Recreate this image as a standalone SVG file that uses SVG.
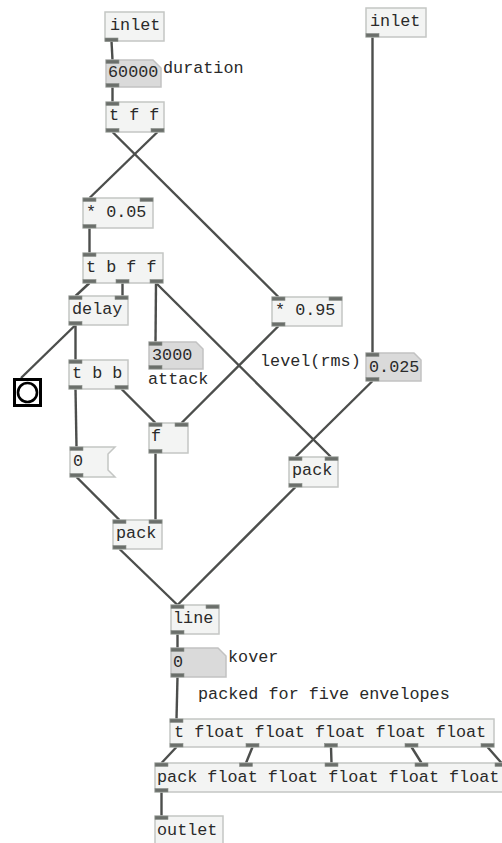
<svg xmlns="http://www.w3.org/2000/svg" width="502" height="843" viewBox="0 0 502 843">
<style>
.box{fill:#f3f4f3;stroke:#c4c6c4;stroke-width:1.5}
.num{fill:#dadada;stroke:#c2c2c2;stroke-width:1.5}
.nub{fill:#6b6f6b;stroke:#8a8f8a;stroke-width:0.6}
.t{font-family:"Liberation Mono","DejaVu Sans Mono",monospace;font-size:16.8px;fill:#2a2a2a}
.c{stroke:#4c4e4c;stroke-width:2.4;fill:none}
</style>
<rect width="502" height="843" fill="#ffffff"/>
<g id="connectors">
<line class="c" x1="111.5" y1="41" x2="112.5" y2="60"/>
<line class="c" x1="112.5" y1="87" x2="112.5" y2="102"/>
<line class="c" x1="112.5" y1="132" x2="278.5" y2="297"/>
<line class="c" x1="157.5" y1="132" x2="89.5" y2="198"/>
<line class="c" x1="89.5" y1="228" x2="89.5" y2="253"/>
<line class="c" x1="89.5" y1="283" x2="75.5" y2="296"/>
<line class="c" x1="122.5" y1="283" x2="122.5" y2="296"/>
<line class="c" x1="156" y1="283" x2="155.5" y2="342"/>
<line class="c" x1="156" y1="283" x2="331" y2="457"/>
<line class="c" x1="75.5" y1="325" x2="21" y2="378"/>
<line class="c" x1="75.5" y1="325" x2="75.5" y2="360"/>
<line class="c" x1="75.5" y1="389" x2="76.5" y2="447"/>
<line class="c" x1="121.5" y1="389" x2="155.5" y2="423"/>
<line class="c" x1="278.5" y1="326" x2="181.5" y2="423"/>
<line class="c" x1="372.5" y1="37" x2="372.5" y2="353"/>
<line class="c" x1="372.5" y1="381" x2="295.5" y2="457"/>
<line class="c" x1="76.5" y1="477" x2="119.5" y2="520"/>
<line class="c" x1="155.5" y1="453" x2="155.5" y2="520"/>
<line class="c" x1="119.5" y1="549" x2="177.5" y2="605"/>
<line class="c" x1="295.5" y1="487" x2="177.5" y2="605"/>
<line class="c" x1="177.5" y1="634" x2="177.5" y2="648"/>
<line class="c" x1="177.5" y1="677" x2="176.5" y2="719"/>
<line class="c" x1="176.5" y1="747" x2="161.5" y2="763"/>
<line class="c" x1="252.5" y1="747" x2="246" y2="763"/>
<line class="c" x1="331" y1="747" x2="331.5" y2="763"/>
<line class="c" x1="411.5" y1="747" x2="421.5" y2="763"/>
<line class="c" x1="487.5" y1="747" x2="501.5" y2="763"/>
<line class="c" x1="161.5" y1="792" x2="161.5" y2="816"/>
</g>
<g id="inlet1">
<rect class="box" x="105" y="12" width="59" height="29"/>
<text class="t" x="110" y="30">inlet</text>
<rect class="nub" x="105" y="38" width="13" height="3.5"/>
</g>
<g id="num60000">
<path class="num" d="M106,60 H153 L161,68 V87 H106 Z"/>
<text class="t" x="108" y="77">60000</text>
<rect class="nub" x="106" y="60" width="13" height="3.5"/>
<rect class="nub" x="106" y="83.5" width="13" height="3.5"/>
</g>
<text class="t" x="163" y="73">duration</text>
<g id="tff">
<rect class="box" x="106" y="102" width="58" height="30"/>
<text class="t" x="109" y="120">t f f</text>
<rect class="nub" x="106" y="102" width="13" height="3.5"/>
<rect class="nub" x="106" y="128.5" width="13" height="3.5"/>
<rect class="nub" x="151" y="128.5" width="13" height="3.5"/>
</g>
<g id="mul005">
<rect class="box" x="83" y="198" width="70" height="30"/>
<text class="t" x="86" y="217">* 0.05</text>
<rect class="nub" x="83" y="198" width="13" height="3.5"/>
<rect class="nub" x="140" y="198" width="13" height="3.5"/>
<rect class="nub" x="83" y="224.5" width="13" height="3.5"/>
</g>
<g id="tbff">
<rect class="box" x="83" y="253" width="80" height="30"/>
<text class="t" x="86" y="272">t b f f</text>
<rect class="nub" x="83" y="253" width="13" height="3.5"/>
<rect class="nub" x="83" y="279.5" width="13" height="3.5"/>
<rect class="nub" x="116" y="279.5" width="13" height="3.5"/>
<rect class="nub" x="150" y="279.5" width="13" height="3.5"/>
</g>
<g id="delay">
<rect class="box" x="69" y="296" width="59" height="29"/>
<text class="t" x="72" y="314">delay</text>
<rect class="nub" x="69" y="296" width="13" height="3.5"/>
<rect class="nub" x="115" y="296" width="13" height="3.5"/>
<rect class="nub" x="69" y="321.5" width="13" height="3.5"/>
</g>
<g id="mul095">
<rect class="box" x="272" y="297" width="70" height="29"/>
<text class="t" x="275" y="315">* 0.95</text>
<rect class="nub" x="272" y="297" width="13" height="3.5"/>
<rect class="nub" x="329" y="297" width="13" height="3.5"/>
<rect class="nub" x="272" y="322.5" width="13" height="3.5"/>
</g>
<g id="num3000">
<path class="num" d="M149,342 H196 L203,349 V369 H149 Z"/>
<text class="t" x="152" y="360">3000</text>
<rect class="nub" x="149" y="342" width="13" height="3.5"/>
<rect class="nub" x="149" y="365.5" width="13" height="3.5"/>
</g>
<text class="t" x="148" y="384">attack</text>
<text class="t" x="260" y="366">level(rms)</text>
<g id="tbb">
<rect class="box" x="69" y="360" width="59" height="29"/>
<text class="t" x="72" y="378">t b b</text>
<rect class="nub" x="69" y="360" width="13" height="3.5"/>
<rect class="nub" x="69" y="385.5" width="13" height="3.5"/>
<rect class="nub" x="115" y="385.5" width="13" height="3.5"/>
</g>
<g id="bang">
<rect x="14.5" y="379.5" width="26" height="26" fill="#ffffff" stroke="#000000" stroke-width="3"/>
<circle cx="27.5" cy="392.5" r="9.5" fill="#ffffff" stroke="#000000" stroke-width="2.6"/>
</g>
<g id="inlet2">
<rect class="box" x="366" y="8" width="60" height="29"/>
<text class="t" x="370" y="26">inlet</text>
<rect class="nub" x="366" y="33.5" width="13" height="3.5"/>
</g>
<g id="num0025">
<path class="num" d="M366,353 H414 L421,360 V381 H366 Z"/>
<text class="t" x="369" y="372">0.025</text>
<rect class="nub" x="366" y="353" width="13" height="3.5"/>
<rect class="nub" x="366" y="377.5" width="13" height="3.5"/>
</g>
<g id="f">
<rect class="box" x="149" y="423" width="39" height="30"/>
<text class="t" x="151" y="441">f</text>
<rect class="nub" x="149" y="423" width="13" height="3.5"/>
<rect class="nub" x="175" y="423" width="13" height="3.5"/>
<rect class="nub" x="149" y="449.5" width="13" height="3.5"/>
</g>
<g id="msg0">
<path class="box" d="M70,447 H115 L108,454 V470 L115,477 H70 Z"/>
<text class="t" x="73" y="466">0</text>
<rect class="nub" x="70" y="447" width="13" height="3.5"/>
<rect class="nub" x="70" y="473.5" width="13" height="3.5"/>
</g>
<g id="packR">
<rect class="box" x="289" y="457" width="49" height="30"/>
<text class="t" x="292" y="475">pack</text>
<rect class="nub" x="289" y="457" width="13" height="3.5"/>
<rect class="nub" x="325" y="457" width="13" height="3.5"/>
<rect class="nub" x="289" y="483.5" width="13" height="3.5"/>
</g>
<g id="packL">
<rect class="box" x="113" y="520" width="49" height="29"/>
<text class="t" x="116" y="538">pack</text>
<rect class="nub" x="113" y="520" width="13" height="3.5"/>
<rect class="nub" x="149" y="520" width="13" height="3.5"/>
<rect class="nub" x="113" y="545.5" width="13" height="3.5"/>
</g>
<g id="line">
<rect class="box" x="171" y="605" width="48" height="29"/>
<text class="t" x="173" y="623">line</text>
<rect class="nub" x="171" y="605" width="13" height="3.5"/>
<rect class="nub" x="206" y="605" width="13" height="3.5"/>
<rect class="nub" x="171" y="630.5" width="13" height="3.5"/>
</g>
<g id="kover">
<path class="num" d="M171,648 H218 L226,656 V677 H171 Z"/>
<text class="t" x="173" y="667">0</text>
<rect class="nub" x="171" y="648" width="13" height="3.5"/>
<rect class="nub" x="171" y="673.5" width="13" height="3.5"/>
</g>
<text class="t" x="228" y="662">kover</text>
<text class="t" x="198" y="699">packed for five envelopes</text>
<g id="tfloat">
<rect class="box" x="170" y="719" width="324" height="28"/>
<text class="t" x="174" y="737">t float float float float float</text>
<rect class="nub" x="170" y="719" width="13" height="3.5"/>
<rect class="nub" x="170" y="743.5" width="13" height="3.5"/>
<rect class="nub" x="246" y="743.5" width="13" height="3.5"/>
<rect class="nub" x="324.5" y="743.5" width="13" height="3.5"/>
<rect class="nub" x="405" y="743.5" width="13" height="3.5"/>
<rect class="nub" x="481" y="743.5" width="13" height="3.5"/>
</g>
<g id="packfloat">
<rect class="box" x="155" y="763" width="352" height="29"/>
<text class="t" x="157" y="782">pack float float float float float</text>
<rect class="nub" x="155" y="763" width="13" height="3.5"/>
<rect class="nub" x="239.5" y="763" width="13" height="3.5"/>
<rect class="nub" x="325" y="763" width="13" height="3.5"/>
<rect class="nub" x="415" y="763" width="13" height="3.5"/>
<rect class="nub" x="495" y="763" width="13" height="3.5"/>
<rect class="nub" x="155" y="788.5" width="13" height="3.5"/>
</g>
<g id="outlet">
<rect class="box" x="155" y="816" width="68" height="30"/>
<text class="t" x="157" y="835">outlet</text>
<rect class="nub" x="155" y="816" width="13" height="3.5"/>
</g>
</svg>
